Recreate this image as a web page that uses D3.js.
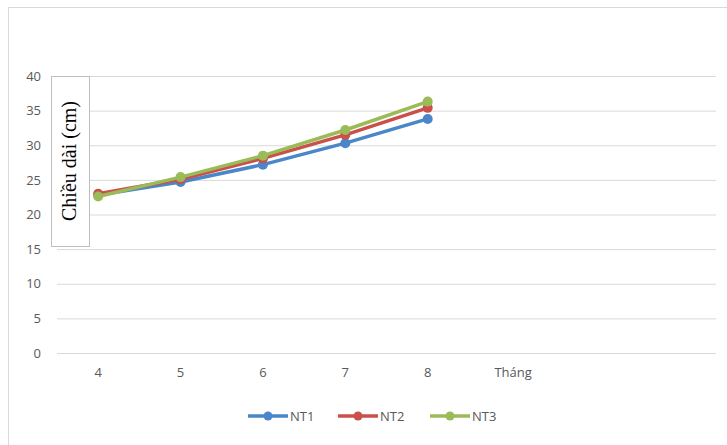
<!DOCTYPE html>
<html><head><meta charset="utf-8">
<script src="https://cdn.jsdelivr.net/npm/d3@7"></script>
<style>body{margin:0;background:#fff}svg{display:block}</style>
</head><body>
<script>
const categories = ["4","5","6","7","8","Tháng"," ","  "];
const months = ["4","5","6","7","8"];
const NT1 = [22.8, 24.7, 27.2, 30.3, 33.8];
const NT2 = [23.0, 25.1, 28.1, 31.5, 35.4];
const NT3 = [22.6, 25.4, 28.5, 32.2, 36.3];
const seriesNames = ["NT1","NT2","NT3"];
const colors = ["#4A86C8","#C9504B","#9BBB59"];
const yTicks = [0,5,10,15,20,25,30,35,40];
const series = [NT1, NT2, NT3];

const W = 727, H = 445;
const svg = d3.select("body").append("svg").attr("width", W).attr("height", H);
svg.append("rect").attr("x",8.5).attr("y",7.5).attr("width",W).attr("height",H)
  .attr("fill","#fff").attr("stroke","#d9d9d9");

const x = d3.scaleBand().domain(categories).range([57, 716]);
const y = d3.scaleLinear().domain([0,40]).range([353, 76]);

// gridlines
svg.append("g").selectAll("line").data(yTicks).join("line")
  .attr("x1",57).attr("x2",716).attr("y1",d=>y(d)+0.5).attr("y2",d=>y(d)+0.5)
  .attr("stroke","#d9d9d9").attr("stroke-width",1);

// y axis labels
const yAxis = d3.axisLeft(y).tickValues(yTicks).tickSize(0).tickPadding(0);
const gy = svg.append("g").attr("transform","translate(41,0)").call(yAxis);
gy.select(".domain").remove();
gy.selectAll("text").attr("font-family","Open Sans, sans-serif").attr("font-size",13).attr("fill","#595959");

// x axis labels
const xAxis = d3.axisBottom(x).tickSize(0).tickPadding(0);
const gx = svg.append("g").attr("transform","translate(0,368)").call(xAxis);
gx.select(".domain").remove();
gx.selectAll("text").attr("font-family","Open Sans, sans-serif").attr("font-size",13).attr("fill","#595959");
gx.selectAll(".tick").filter(d=>d==="Tháng").select("text").attr("dx",3);

// lines
const line = d3.line().x((d,i)=>x(months[i])+x.bandwidth()/2).y(d=>y(d));
series.forEach((s,k)=>{
  svg.append("path").datum(s).attr("d",line).attr("fill","none")
    .attr("stroke",colors[k]).attr("stroke-width",3.5).attr("stroke-linejoin","round");
  svg.append("g").selectAll("circle").data(s).join("circle")
    .attr("cx",(d,i)=>x(months[i])+x.bandwidth()/2).attr("cy",d=>y(d)).attr("r",5)
    .attr("fill",colors[k]);
});

// y title box
svg.append("rect").attr("x",51.5).attr("y",76.5).attr("width",38).attr("height",170)
  .attr("fill","#fff").attr("stroke","#bfbfbf");
svg.append("text").attr("transform","translate(76,161) rotate(-90)")
  .attr("text-anchor","middle").attr("font-family","Liberation Serif, Times New Roman, serif")
  .attr("font-size",20).attr("fill","#000").text("Chiều dài (cm)");

// legend
const legX = [248, 338, 430];
seriesNames.forEach((n,k)=>{
  const g = svg.append("g").attr("transform",`translate(${legX[k]},416)`);
  g.append("line").attr("x1",0).attr("x2",40).attr("stroke",colors[k]).attr("stroke-width",3.5);
  g.append("circle").attr("cx",20).attr("r",4.5).attr("fill",colors[k]);
  g.append("text").attr("x",42).attr("y",5).attr("font-family","Open Sans, sans-serif")
    .attr("font-size",13).attr("fill","#595959").text(n);
});
</script>
</body></html>
